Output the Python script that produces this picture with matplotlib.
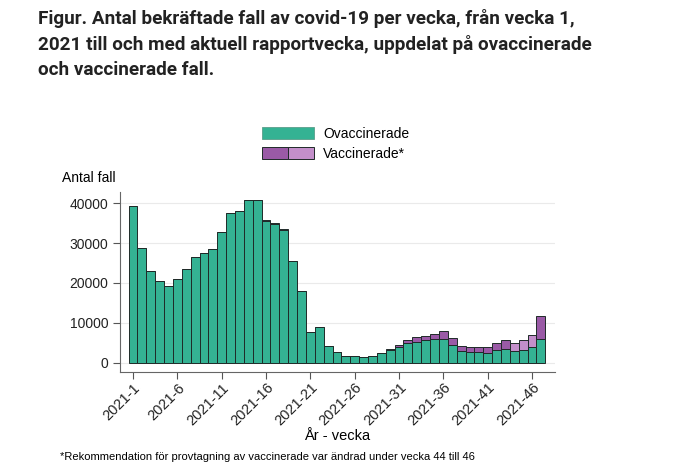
import numpy as np
import matplotlib
matplotlib.use("Agg")
import matplotlib.pyplot as plt
from matplotlib.patches import Patch
from matplotlib.legend_handler import HandlerTuple

# veckor 1-47, 2021
weeks = list(range(1, 48))
ovaccinerade = [39300, 28800, 23000, 20600, 19300, 21100, 23400, 26600, 27600, 28400,
                32800, 37600, 38100, 40800, 40800, 35500, 34850, 33350, 25400, 17900,
                7800, 8960, 4270, 2600, 1800, 1650, 1300, 1700, 2500, 3200,
                4000, 4900, 5300, 5600, 5870, 6030, 4440, 2860, 2600, 2600,
                2520, 3190, 3520, 2860, 3110, 3860, 6030]
vaccinerade = [0, 0, 0, 0, 0, 0, 0, 0, 0, 0,
               0, 0, 0, 0, 0, 200, 150, 150, 200, 100,
               0, 0, 0, 0, 0, 0, 0, 0, 0, 150,
               440, 800, 1070, 1000, 1330, 1850, 1680, 1330, 1420, 1420,
               1340, 1830, 2180, 2080, 2510, 3090, 5770]
changed_weeks = [44, 45, 46]
tick_weeks = [1, 6, 11, 16, 21, 26, 31, 36, 41, 46]
tick_labels = [f"2021-{w}" for w in tick_weeks]

green = "#34b293"
purple = "#9a5aa6"
purple_light = "#c38fca"
edge = "#1f2a28"

plt.rcParams['font.family'] = ['Liberation Sans', 'DejaVu Sans']

fig = plt.figure(figsize=(7, 4.68), dpi=100)
ax = fig.add_axes([0.1714, 0.2058, 0.6216, 0.3846])

vcol = [purple_light if w in changed_weeks else purple for w in weeks]
ax.bar(weeks, ovaccinerade, width=1.0, color=green, edgecolor=edge, linewidth=0.7, zorder=3)
ax.bar(weeks, vaccinerade, bottom=ovaccinerade, width=1.0, color=vcol,
       edgecolor=edge, linewidth=0.7, zorder=3)

ax.set_xlim(-0.47, 48.6)
ax.set_ylim(-2260, 42900)
ax.set_yticks([0, 10000, 20000, 30000, 40000])
ax.set_yticklabels(["0", "10000", "20000", "30000", "40000"], fontsize=10)
ax.set_xticks(tick_weeks)
ax.set_xticklabels(tick_labels, rotation=45, ha="right", rotation_mode="anchor", fontsize=10.5)
ax.tick_params(axis="both", length=5, width=0.8, color="#555555", colors="#222222")
ax.tick_params(axis="x", pad=1.5)
ax.grid(axis="y", color="#eaeaea", linewidth=0.8, zorder=0)
for s in ["top", "right"]:
    ax.spines[s].set_visible(False)
for s in ["left", "bottom"]:
    ax.spines[s].set_color("#666666")
    ax.spines[s].set_linewidth(0.8)

fig.text(337.5 / 700, 1 - 436 / 468, "År - vecka", fontsize=10.5, va="center", ha="center")
fig.text(62 / 700, 1 - 178 / 468, "Antal fall", fontsize=10, va="center", ha="left")

h1 = Patch(facecolor=green, edgecolor="#5a9e8a", linewidth=0.6)
h2a = Patch(facecolor=purple, edgecolor=edge, linewidth=0.7)
h2b = Patch(facecolor=purple_light, edgecolor=edge, linewidth=0.7)
fig.legend([h1, (h2a, h2b)], ["Ovaccinerade", "Vaccinerade*"],
           handler_map={tuple: HandlerTuple(ndivide=None, pad=0)},
           loc="upper left", bbox_to_anchor=(262 / 700, 1 - 127 / 468),
           frameon=False, fontsize=10, handlelength=3.75, handleheight=0.95,
           handletextpad=0.65, labelspacing=0.45, borderpad=0, borderaxespad=0)

title = ["Figur. Antal bekräftade fall av covid-19 per vecka, från vecka 1,",
         "2021 till och med aktuell rapportvecka, uppdelat på ovaccinerade",
         "och vaccinerade fall."]
for i, line in enumerate(title):
    fig.text(38 / 700, 1 - (18 + 26 * i) / 468, line, fontsize=13.6, fontweight="bold",
             family=["Roboto", "DejaVu Sans"], color="#222222", va="center", ha="left")

fig.text(60 / 700, 1 - 457 / 468,
         "*Rekommendation för provtagning av vaccinerade var ändrad under vecka 44 till 46",
         fontsize=8, va="center", ha="left")

fig.savefig("out.png", dpi=100)
